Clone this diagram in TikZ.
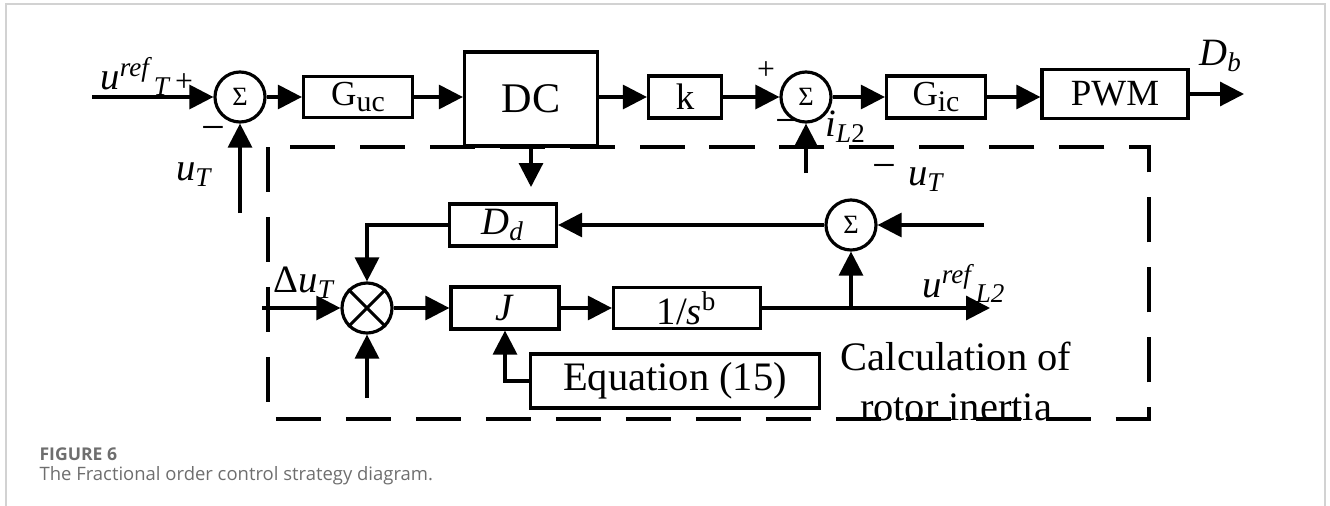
\documentclass[tikz,border=0pt]{standalone}
\usepackage{fontspec}
\setmainfont{Liberation Serif}
\newfontfamily\capfont{Open Sans}
\usetikzlibrary{arrows.meta}
\definecolor{CapC}{HTML}{6E6E6E}
\definecolor{FrameC}{HTML}{D2D2D2}
\newcommand{\lowsub}[1]{\raisebox{-0.35ex}{\fontsize{8.5}{9}\selectfont #1}}

\begin{document}
\begin{tikzpicture}[x=0.01cm,y=-0.01cm,line width=0.9pt,
  >={Triangle[length=6.8pt,width=6.8pt]},
  blk/.style={draw,line width=0.9pt,inner sep=0pt,font=\fontsize{11}{13}\selectfont},
  sumnode/.style={draw,circle,line width=0.9pt,minimum size=0.5cm,inner sep=0pt,font=\fontsize{7.5}{8}\selectfont},
  lbl/.style={inner sep=0pt,font=\fontsize{11}{13}\selectfont},
  sgn/.style={inner sep=0pt,font=\fontsize{9}{10}\selectfont},
  minus/.style={inner sep=0pt,font=\fontsize{12}{12}\selectfont},
  zone/.style={line width=1pt,dash pattern=on 12.8pt off 7.1pt}]

\useasboundingbox (0,0) rectangle (1330,506);

% ---------- page frame ----------
\draw[FrameC,line width=0.6pt] (6,506) -- (6,4) -- (1325,4) -- (1325,506);

% ---------- rotor inertia zone ----------
\draw[zone] (268,147) rectangle (1149,419);

% ---------- outer loop ----------
\node[sumnode] (s1) at (240,97) {Σ};
\node[blk,minimum width=1.09cm,minimum height=0.41cm,font=\fontsize{10}{12}\selectfont] (guc) at (358,97) {G\lowsub{uc}};
\node[blk,minimum width=1.33cm,minimum height=0.94cm,font=\fontsize{12}{14}\selectfont] (dc) at (531,99) {DC};
\node[blk,minimum width=0.73cm,minimum height=0.42cm,font=\fontsize{10.5}{12}\selectfont] (k) at (685,97) {k};
\node[sumnode] (s2) at (806,97) {Σ};
\node[blk,minimum width=0.99cm,minimum height=0.42cm,font=\fontsize{10}{12}\selectfont] (gic) at (936,97) {G\lowsub{ic}};
\node[blk,minimum width=1.46cm,minimum height=0.49cm,font=\fontsize{10.5}{12}\selectfont] (pwm) at (1115,94) {PWM};

\coordinate (uin) at (92,97);
\coordinate (fb1) at (240,213);
\coordinate (fb2) at (806,173);
\coordinate (dcdn) at (531,187);
\coordinate (dbout) at (1244,94);

\draw[->] (uin) -- (s1.west);
\draw[->] (s1.east) -- (guc.west);
\draw[->] (guc.east) -- (guc.east -| dc.west);
\draw[->] (dc.east |- k.west) -- (k.west);
\draw[->] (k.east) -- (s2.west);
\draw[->] (s2.east) -- (gic.east -| gic.west);
\draw[->] (gic.east) -- (gic.east -| pwm.west);
\draw[->] (pwm.east) -- (dbout);
\draw[->] (fb1) -- (s1.south);
\draw[->] (fb2) -- (s2.south);
\draw[->] (dc.south) -- (dcdn);

\node[lbl,anchor=base west] (urefT) at (99,90) {\textit{u}\textsuperscript{\textit{ref}}\textsubscript{\textit{T}}};
\node[sgn] (p1) at (184,83) {+};
\node[minus] (m1) at (213,134) {−};
\node[lbl] (uT1) at (195,175) {\textit{u}\textsubscript{\textit{T}}};
\node[sgn] (p2) at (766,71) {+};
\node[minus] (m2) at (787,127) {−};
\node[lbl] (iL2) at (846,127) {\textit{i}\textsubscript{\textit{L}2}};
\node[lbl] (Db) at (1221,56) {\textit{D}\textsubscript{\textit{b}}};

% ---------- inner loop ----------
\node[blk,minimum width=1.07cm,minimum height=0.42cm] (dd) at (503,225) {\textit{D}\textsubscript{\textit{d}}};
\node[sumnode] (s3) at (851,225) {Σ};
\node[sumnode] (mul) at (367,308) {};
\draw (mul.north west) -- (mul.south east) (mul.north east) -- (mul.south west);
\node[blk,minimum width=1.08cm,minimum height=0.42cm] (jj) at (505,308) {\textit{J}};
\node[blk,minimum width=1.47cm,minimum height=0.41cm] (inv) at (687,308) {1/\textit{s}\textsuperscript{b}};
\node[blk,minimum width=2.89cm,minimum height=0.54cm,font=\fontsize{11.5}{13}\selectfont] (eqn) at (675,381) {Equation (15)};

\coordinate (utin) at (984,225);
\coordinate (duin) at (262,308);
\coordinate (mulin) at (367,398);
\coordinate (tap) at (851,308);
\coordinate (uLout) at (990,308);

\draw[->] (utin) -- (s3.east);
\draw[->] (s3.west) -- (dd.east);
\draw[->] (dd.west) -| (mul.north);
\draw[->] (duin) -- (mul.west);
\draw[->] (mulin) -- (mul.south);
\draw[->] (mul.east) -- (jj.west);
\draw[->] (jj.east) -- (inv.west);
\draw[->] (inv.east) -- (uLout);
\draw[->] (tap) -- (s3.south);
\draw[->] (eqn.west) -| (jj.south);

\node[minus] (m3) at (884,172) {−};
\node[lbl] (uT2) at (927,180) {\textit{u}\textsubscript{\textit{T}}};
\node[lbl] (duT) at (305,283) {Δ\textit{u}\textsubscript{\textit{T}}};
\node[lbl,anchor=base west] (urefL) at (921,297) {\textit{u}\textsuperscript{\textit{ref}}\textsubscript{\textit{L2}}};
\node[lbl,align=center,font=\fontsize{11.5}{14.2}\selectfont] (calc) at (956,381) {Calculation of\\rotor inertia};

% ---------- caption ----------
\node[anchor=base west,inner sep=0pt,text=CapC,font=\capfont\bfseries\fontsize{5}{6}\selectfont] (fig) at (38,460) {FIGURE 6};
\node[anchor=base west,inner sep=0pt,text=CapC,font=\capfont\fontsize{5.25}{6}\selectfont] (cap) at (38,480) {The Fractional order control strategy diagram.};
\end{tikzpicture}
\end{document}
